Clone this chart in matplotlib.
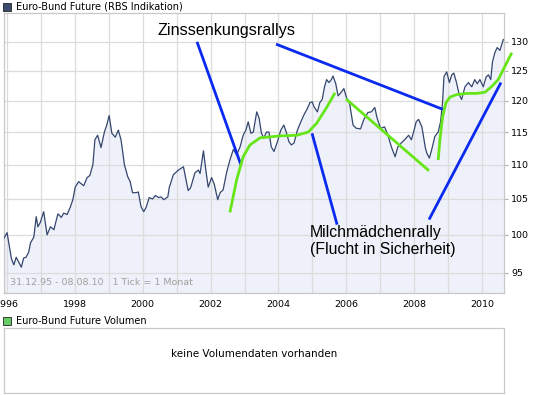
import matplotlib
matplotlib.use("Agg")
import matplotlib.pyplot as plt
from matplotlib.ticker import FixedLocator, NullLocator, FuncFormatter
from matplotlib.patches import Rectangle

# ---------------- data ----------------
dates = [1995.90, 1996.00, 1996.07, 1996.13, 1996.20, 1996.27, 1996.34, 1996.42, 1996.49, 1996.56,
         1996.64, 1996.69, 1996.79, 1996.86, 1996.91, 1996.98, 1997.08, 1997.18, 1997.28, 1997.38,
         1997.50, 1997.60, 1997.67, 1997.77, 1997.87, 1997.94, 1998.01, 1998.11, 1998.26, 1998.36,
         1998.44, 1998.53, 1998.59, 1998.67, 1998.77, 1998.87, 1998.94, 1999.01, 1999.09, 1999.19,
         1999.28, 1999.36, 1999.46, 1999.56, 1999.63, 1999.70, 1999.80, 1999.87, 1999.95, 2000.03,
         2000.10, 2000.19, 2000.29, 2000.37, 2000.47, 2000.54, 2000.62, 2000.74, 2000.78, 2000.90,
         2001.05, 2001.20, 2001.34, 2001.41, 2001.54, 2001.64, 2001.69, 2001.79, 2001.86, 2001.93,
         2002.03, 2002.11, 2002.21, 2002.28, 2002.37, 2002.47, 2002.57, 2002.67, 2002.77, 2002.87,
         2002.96, 2003.04, 2003.11, 2003.19, 2003.26, 2003.36, 2003.43, 2003.50, 2003.57, 2003.65,
         2003.72, 2003.79, 2003.87, 2003.97, 2004.07, 2004.16, 2004.23, 2004.31, 2004.38, 2004.46,
         2004.56, 2004.66, 2004.75, 2004.85, 2004.93, 2005.00, 2005.05, 2005.15, 2005.22, 2005.29,
         2005.36, 2005.42, 2005.49, 2005.56, 2005.61, 2005.69, 2005.76, 2005.85, 2005.93, 2006.00,
         2006.10, 2006.20, 2006.29, 2006.42, 2006.52, 2006.64, 2006.74, 2006.84, 2006.91, 2007.01,
         2007.13, 2007.23, 2007.33, 2007.44, 2007.52, 2007.62, 2007.72, 2007.84, 2007.92, 2008.00,
         2008.06, 2008.13, 2008.23, 2008.33, 2008.37, 2008.45, 2008.52, 2008.61, 2008.71, 2008.78,
         2008.84, 2008.88, 2008.96, 2009.04, 2009.11, 2009.17, 2009.25, 2009.33, 2009.40, 2009.50,
         2009.60, 2009.70, 2009.79, 2009.86, 2009.94, 2010.04, 2010.12, 2010.19, 2010.26, 2010.31,
         2010.38, 2010.45, 2010.53, 2010.63]

prices = [99.5, 100.3, 98.4, 96.8, 96.0, 97.0, 96.4, 95.7, 96.9, 97.0,
          97.7, 98.9, 99.7, 102.5, 101.1, 101.7, 103.2, 100.0, 101.1, 100.7,
          102.9, 102.4, 103.0, 102.8, 103.9, 104.9, 106.7, 107.5, 106.9, 108.1,
          108.4, 110.0, 113.8, 114.5, 112.6, 115.0, 116.1, 117.6, 114.8, 114.2,
          115.3, 113.8, 110.0, 108.2, 107.5, 105.9, 105.9, 106.0, 103.9, 103.2,
          103.8, 105.2, 105.0, 105.5, 105.2, 105.3, 104.9, 105.3, 106.6, 108.5,
          109.2, 109.7, 106.2, 106.6, 108.8, 109.2, 108.7, 112.1, 109.2, 106.7,
          108.1, 107.1, 104.9, 105.9, 106.3, 108.8, 110.7, 112.3, 111.5, 112.7,
          114.5, 115.3, 116.6, 114.8, 115.0, 118.2, 117.2, 114.8, 114.1, 115.0,
          115.0, 112.7, 112.0, 113.5, 115.3, 116.1, 115.0, 113.5, 113.0, 113.3,
          115.3, 116.6, 117.7, 118.7, 119.7, 119.8, 119.0, 118.2, 119.7, 120.2,
          122.3, 123.5, 123.0, 123.5, 124.1, 122.8, 120.8, 121.4, 122.0, 120.6,
          119.5, 116.1, 115.6, 115.5, 117.0, 118.1, 118.2, 118.9, 117.2, 115.6,
          115.8, 114.5, 112.7, 111.2, 112.7, 113.3, 113.8, 114.5, 113.8, 115.3,
          116.6, 117.0, 115.8, 112.6, 111.8, 111.0, 112.3, 114.3, 115.0, 116.6,
          119.8, 124.0, 124.8, 123.0, 124.3, 124.6, 123.0, 121.0, 120.2, 122.3,
          123.0, 122.3, 123.5, 122.8, 123.5, 122.3, 123.9, 124.3, 123.5, 126.5,
          128.1, 129.0, 128.5, 130.4]

y_ticks = [95, 100, 105, 110, 115, 120, 125, 130]
x_label_years = [1996, 1998, 2000, 2002, 2004, 2006, 2008, 2010]
x_grid_years = list(range(1996, 2011))

# annotation lines (decimal year, price)
blue_lines = [
    ([2001.60, 2002.90], [130.0, 109.9]),
    ([2003.93, 2008.85], [129.6, 118.6]),
    ([2004.99, 2005.73], [114.8, 101.4]),
    ([2008.44, 2010.56], [102.1, 123.0]),
]
green1_x = [2002.57, 2002.77, 2002.96, 2003.16, 2003.46, 2004.05, 2004.54, 2004.88, 2005.13, 2005.42, 2005.67]
green1_y = [103.1, 107.8, 111.2, 113.0, 114.1, 114.4, 114.5, 115.0, 116.4, 118.9, 121.3]
green2_x = [2005.99, 2008.44]
green2_y = [120.3, 109.1]
green3_x = [2008.71, 2008.76, 2008.84, 2008.94, 2009.06, 2009.25, 2009.55, 2009.84, 2010.09, 2010.28, 2010.48, 2010.63, 2010.88]
green3_y = [110.7, 113.8, 117.4, 119.7, 120.6, 121.0, 121.2, 121.2, 121.4, 122.3, 123.5, 125.2, 128.1]

# ---------------- figure ----------------
W, H = 545, 395
fig = plt.figure(figsize=(W / 100, H / 100), dpi=100)
fig.patch.set_facecolor("white")

def fx(px):
    return px / W

def fy(py):
    return 1 - py / H

ax = fig.add_axes([fx(4), fy(293), fx(504) - fx(4), (293 - 13) / H])
ax.set_yscale("log")
ax.set_xlim(1995.91, 2010.65)
ax.set_ylim(92.4, 135.2)

grid_col = "#DCDCDC"
ax.fill_between(dates, prices, 92.4, color="#EEF1F9", zorder=1, lw=0)
for yr in x_grid_years:
    ax.axvline(yr, color=grid_col, lw=0.9, zorder=1.5)
for t in y_ticks:
    ax.axhline(t, color=grid_col, lw=0.9, zorder=1.5)
ax.plot(dates, prices, color="#34466E", lw=0.9, zorder=3)

for xs, ys in blue_lines:
    ax.plot(xs, ys, color="#0A2AF0", lw=2.0, solid_capstyle="butt", zorder=4)
for xs, ys in [(green1_x, green1_y), (green2_x, green2_y), (green3_x, green3_y)]:
    ax.plot(xs, ys, color="#66E619", lw=2.0, solid_capstyle="butt", zorder=5,
            clip_on=False, solid_joinstyle="round")

ax.text(0.306, 0.939, "Zinssenkungsrallys", transform=ax.transAxes, fontsize=11.6,
        family="Liberation Sans", ha="left", va="center", color="black", zorder=6)
ax.text(0.612, 0.186, "Milchmädchenrally\n(Flucht in Sicherheit)", transform=ax.transAxes,
        fontsize=11.4, family="Liberation Sans", ha="left", va="center", color="black",
        linespacing=1.12, zorder=6)
ax.text(0.012, 0.022, "31.12.95 - 08.08.10   1 Tick = 1 Monat", transform=ax.transAxes,
        fontsize=6.8, color="#A0A0A0", ha="left", va="bottom", zorder=6)

ax.yaxis.tick_right()
ax.yaxis.set_major_locator(FixedLocator(y_ticks))
ax.yaxis.set_minor_locator(NullLocator())
ax.yaxis.set_major_formatter(FuncFormatter(lambda v, p: f"{v:g}"))
ax.tick_params(axis="y", which="major", length=3, width=0.8, color="#B0B0B0",
               labelsize=6.8, pad=2, labelcolor="black")
ax.xaxis.set_major_locator(FixedLocator(x_label_years))
ax.xaxis.set_minor_locator(NullLocator())
ax.tick_params(axis="x", length=0, labelsize=6.8, pad=5, labelcolor="black")
for s in ax.spines.values():
    s.set_color("#C8C8C8")
    s.set_linewidth(0.9)

# header
fig.patches.append(Rectangle((fx(2.5), fy(10.5)), 8 / W, 8 / H, transform=fig.transFigure,
                             facecolor="#3C4C70", edgecolor="#222222", lw=0.6))
fig.text(fx(16), fy(6.5), "Euro-Bund Future (RBS Indikation)", fontsize=7,
         ha="left", va="center", color="black")

# volume panel
fig.patches.append(Rectangle((fx(2.5), fy(324.5)), 8 / W, 8 / H, transform=fig.transFigure,
                             facecolor="#66CC66", edgecolor="#222222", lw=0.6))
fig.text(fx(16), fy(320.5), "Euro-Bund Future Volumen", fontsize=7,
         ha="left", va="center", color="black")
ax2 = fig.add_axes([fx(4), fy(393), fx(504) - fx(4), (393 - 328) / H])
ax2.set_xticks([])
ax2.set_yticks([])
for s in ax2.spines.values():
    s.set_color("#C8C8C8")
    s.set_linewidth(0.9)
ax2.text(0.5, 0.6, "keine Volumendaten vorhanden", transform=ax2.transAxes,
         fontsize=7.5, ha="center", va="center", color="black")

fig.savefig("out.png", dpi=100)
